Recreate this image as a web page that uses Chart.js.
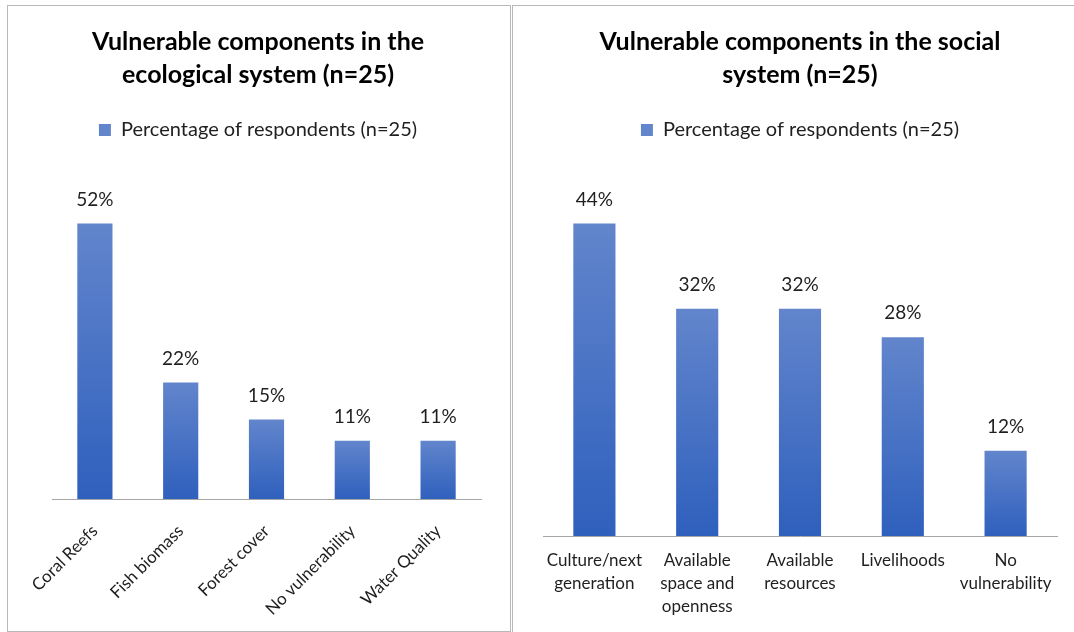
<!DOCTYPE html>
<html>
<head>
<meta charset="utf-8">
<script src="https://cdn.jsdelivr.net/npm/chart.js@4/dist/chart.umd.min.js"></script>
<style>
  body { margin: 0; width: 1074px; height: 632px; overflow: hidden; position: relative; background: #fff; }
  .panel { position: absolute; box-sizing: border-box; border: 1px solid #b8b8b8; }
  #leftPanel { left: 7px; top: 5px; width: 504px; height: 627px; }
  #rightPanel { left: 512px; top: 5px; width: 600px; height: 700px; }
  canvas { position: absolute; top: 0; }
  #ecoChart { left: 0; }
  #socChart { left: 511px; }
</style>
</head>
<body>
<div class="panel" id="leftPanel"></div>
<div class="panel" id="rightPanel"></div>
<canvas id="ecoChart" width="511" height="632"></canvas>
<canvas id="socChart" width="563" height="632"></canvas>
<script>
// values (percent of respondents)
const seriesLabel = 'Percentage of respondents (n=25)';

const ecoTitle = ['Vulnerable components in the', 'ecological system (n=25)'];
const ecoCategories = ['Coral Reefs', 'Fish biomass', 'Forest cover', 'No vulnerability', 'Water Quality'];
const ecoValues = [52, 22, 15, 11, 11];
const ecoMax = 60;

const socTitle = ['Vulnerable components in the social', 'system (n=25)'];
const socCategories = [
  ['Culture/next', 'generation'],
  ['Available', 'space and', 'openness'],
  ['Available', 'resources'],
  ['Livelihoods'],
  ['No', 'vulnerability']
];
const socValues = [44, 32, 32, 28, 12];
const socMax = 50;

Chart.defaults.font.family = 'Lato, "Open Sans", sans-serif';

const barTop = '#6285cc';
const barBottom = '#2f60bd';

// each bar gets its own light-to-dark gradient
function barFill(c) {
  const chart = c.chart;
  const y = chart.scales.y;
  if (c.type !== 'data' || !y || !chart.chartArea) return '#4a74c8';
  const top = y.getPixelForValue(c.raw);
  const base = y.getPixelForValue(0);
  const g = chart.ctx.createLinearGradient(0, top, 0, base);
  g.addColorStop(0, barTop);
  g.addColorStop(1, barBottom);
  return g;
}

// value labels above the bars
const valueLabels = {
  id: 'valueLabels',
  afterDatasetsDraw(chart) {
    const ctx = chart.ctx;
    const meta = chart.getDatasetMeta(0);
    const data = chart.data.datasets[0].data;
    ctx.save();
    ctx.font = '19px ' + Chart.defaults.font.family;
    ctx.fillStyle = '#1f1f1f';
    ctx.textAlign = 'center';
    ctx.textBaseline = 'middle';
    meta.data.forEach((bar, i) => {
      ctx.fillText(data[i] + '%', bar.x, bar.y - 24);
    });
    ctx.restore();
  }
};

// extra room between the legend and the plot
const legendGap = {
  id: 'legendGap',
  beforeInit(chart) {
    const fit = chart.legend.fit;
    chart.legend.fit = function () {
      fit.call(this);
      this.height += 31;
    };
  }
};

function makeChart(id, title, labels, values, max, o) {
  return new Chart(document.getElementById(id), {
    type: 'bar',
    data: {
      labels: labels,
      datasets: [{
        label: seriesLabel,
        data: values,
        backgroundColor: barFill,
        categoryPercentage: 1,
        barPercentage: 0.41
      }]
    },
    options: {
      responsive: false,
      animation: false,
      layout: { padding: { left: o.padLeft, right: o.padRight, top: 0, bottom: 0 } },
      plugins: {
        title: {
          display: true,
          text: title,
          color: '#000',
          font: { size: 25, weight: 'bold', lineHeight: 33 / 25 },
          padding: { top: 25.5, bottom: 19.5 }
        },
        legend: {
          labels: {
            boxWidth: 12,
            boxHeight: 12,
            padding: 9,
            color: '#1f1f1f',
            font: { size: 20 }
          }
        },
        tooltip: { enabled: false }
      },
      scales: {
        x: {
          grid: { display: false, drawTicks: false },
          border: { display: true, color: '#a6a6a6', width: 1 },
          ticks: {
            autoSkip: false,
            color: '#1f1f1f',
            font: { size: 17, lineHeight: 23 / 17 },
            padding: o.tickPad,
            minRotation: o.rot,
            maxRotation: o.rot
          },
          afterFit: s => { s.height = o.xHeight; }
        },
        y: {
          min: 0,
          max: max,
          grid: { display: false, drawTicks: false },
          border: { display: false },
          ticks: { display: false },
          afterFit: s => { s.width = o.yWidth; }
        }
      }
    },
    plugins: [legendGap, valueLabels]
  });
}

makeChart('ecoChart', ecoTitle, ecoCategories, ecoValues, ecoMax,
  { padLeft: 35, padRight: 30, yWidth: 17, xHeight: 133, tickPad: 21, rot: 45 });
makeChart('socChart', socTitle, socCategories, socValues, socMax,
  { padLeft: 32, padRight: 17, yWidth: 0, xHeight: 96, tickPad: 13, rot: 0 });
</script>
</body>
</html>
